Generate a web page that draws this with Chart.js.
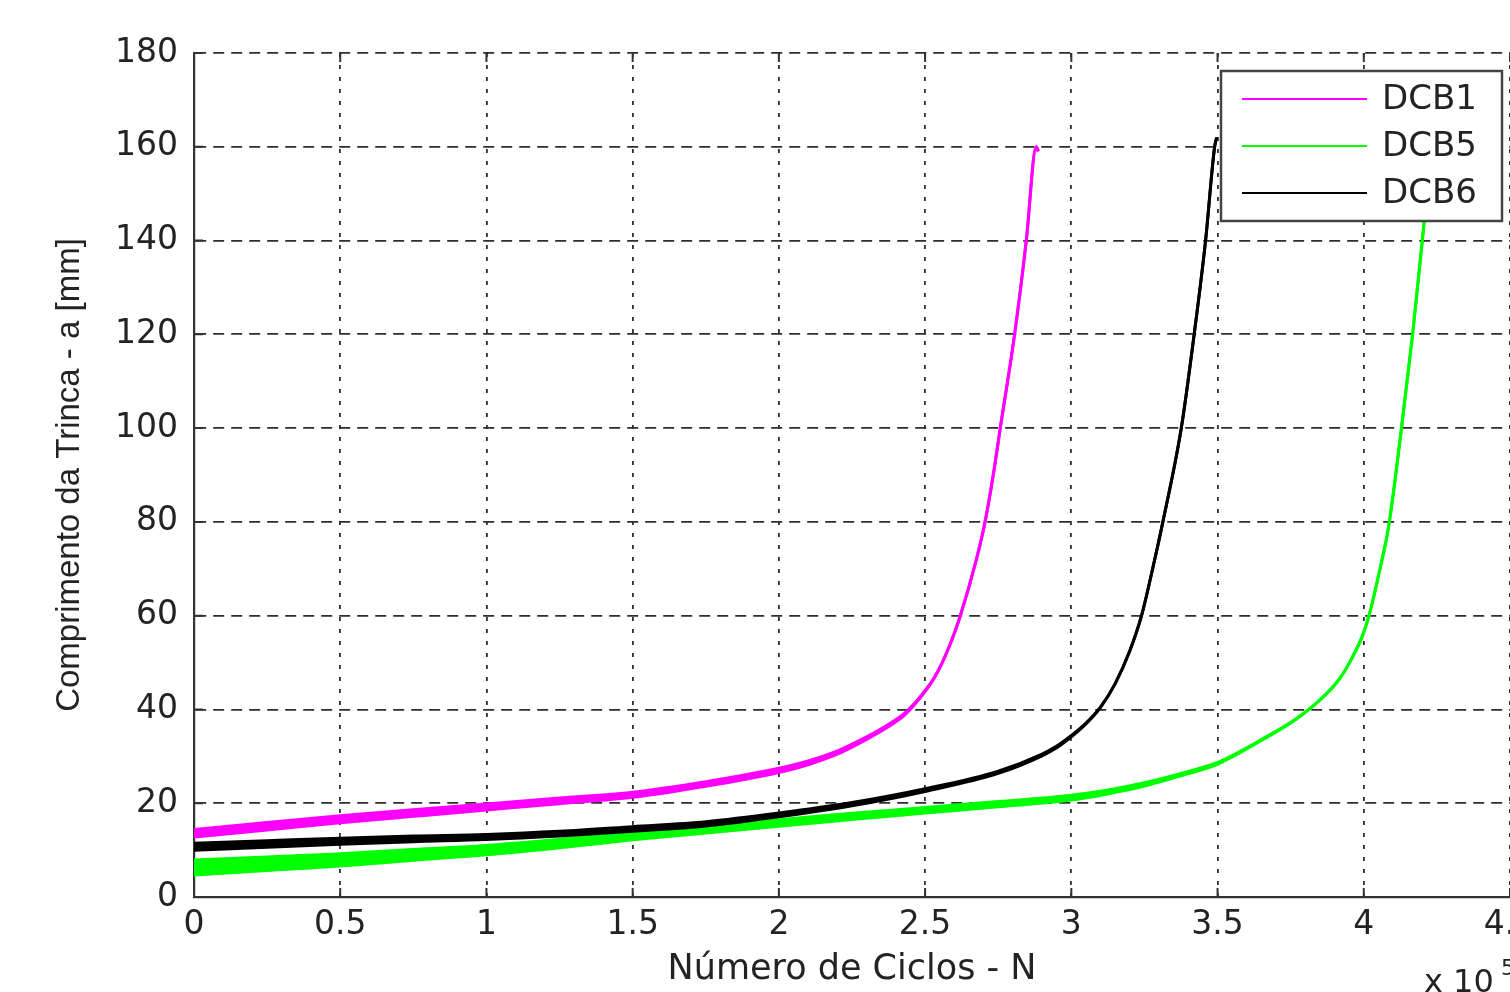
<!DOCTYPE html>
<html>
<head>
<meta charset="utf-8">
<script src="https://cdn.jsdelivr.net/npm/chart.js@4.4.1/dist/chart.umd.min.js"></script>
<style>
html,body{margin:0;padding:0;background:#fff;}
#wrap{width:1510px;height:992px;}
</style>
</head>
<body>
<div id="wrap"><canvas id="c" width="1510" height="992"></canvas></div>
<script>
// eixos
const xTickLabels=["0","0.5","1","1.5","2","2.5","3","3.5","4","4.5"];
const yTickLabels=["0","20","40","60","80","100","120","140","160","180"];
const seriesNames=["DCB1","DCB5","DCB6"];

// DCB1 - N (x 10^5), a [mm], meia largura da faixa de oscilação [mm]
const dcb1N=[0,0.25,0.5,0.75,1.0,1.25,1.5,1.75,2.0,2.1,2.2,2.276,2.37,2.43,2.47,2.508,2.53,2.555,2.59,2.618,2.675,2.705,2.733,2.757,2.806,2.846,2.88,2.887];
const dcb1A=[13.6,15.1,16.6,17.9,19.2,20.5,21.8,24.1,27.0,28.6,30.8,33.1,36.4,39.0,41.6,44.6,46.6,49.5,54.6,59.5,71.9,80,90,100,120,140,160,159];
const dcb1Spread=[0.8,0.8,0.75,0.7,0.65,0.6,0.55,0.5,0.45,0.4,0.35,0.3,0.25,0.2,0.15,0.1,0.07,0.04,0,0,0,0,0,0,0,0,0,0];

// DCB5
const dcb5N=[0,0.25,0.5,0.75,1.0,1.25,1.5,1.75,2.0,2.25,2.5,2.75,3.0,3.125,3.25,3.375,3.5,3.54,3.65,3.77,3.87,3.92,3.96,3.996,4.02,4.052,4.085,4.127,4.167,4.2,4.235];
const dcb5A=[6.3,7.1,7.9,9.0,10.0,11.4,13.0,14.4,15.8,17.2,18.5,19.8,21.2,22.4,24.0,26.1,28.5,29.7,33.5,38.0,43.2,46.8,51.0,55.8,60.5,69,79,99,120,140,162];
const dcb5Spread=[1.6,1.45,1.3,1.15,1.0,0.9,0.8,0.75,0.7,0.65,0.6,0.55,0.5,0.42,0.35,0.25,0.2,0.15,0.1,0.05,0,0,0,0,0,0,0,0,0,0,0];

// DCB6
const dcb6N=[0,0.25,0.5,0.75,1.0,1.25,1.5,1.75,2.0,2.25,2.5,2.75,2.9,2.95,3.0,3.05,3.1,3.15,3.2,3.24,3.278,3.313,3.376,3.42,3.459,3.49,3.497];
const dcb6A=[10.7,11.3,11.9,12.4,12.8,13.5,14.5,15.6,17.5,19.8,22.8,26.6,30.3,32.0,34.3,37.0,40.5,45.5,52.5,60,70,80,100,120,140,160,162];
const dcb6Spread=[0.75,0.7,0.65,0.6,0.55,0.5,0.5,0.45,0.4,0.35,0.3,0.25,0.2,0.18,0.15,0.1,0.05,0,0,0,0,0,0,0,0,0,0];

const COLORS={DCB1:"#ff00ff",DCB5:"#00ff00",DCB6:"#000000"};
const TXT="#232323";

function band(n,a,s,side){
  return n.map((x,i)=>({x,y:a[i]+side*s[i]}));
}

// cada série = borda superior + borda inferior preenchida entre elas
function makeSeries(name,n,a,s,order){
  const color=COLORS[name];
  const base={borderColor:color,backgroundColor:color,borderWidth:3,pointRadius:0,
    cubicInterpolationMode:"monotone",order};
  return [
    {...base,label:name,data:band(n,a,s,1),fill:false},
    {...base,label:name+"_inf",data:band(n,a,s,-1),fill:"-1"}
  ];
}

const datasets=[
  ...makeSeries("DCB1",dcb1N,dcb1A,dcb1Spread,2),
  ...makeSeries("DCB5",dcb5N,dcb5A,dcb5Spread,1),
  ...makeSeries("DCB6",dcb6N,dcb6A,dcb6Spread,0)
];

// ticks internos, legenda estilo matlab e o "x 10^5"
const matlabFrame={
  id:"matlabFrame",
  afterDatasetsDraw(chart){
    const {ctx,chartArea:a,scales:{x,y}}=chart;
    ctx.save();
    ctx.setLineDash([]);
    ctx.strokeStyle="#333";
    ctx.lineWidth=2;
    const tl=9;
    ctx.beginPath();
    x.ticks.forEach(t=>{
      const px=x.getPixelForValue(t.value);
      ctx.moveTo(px,a.bottom); ctx.lineTo(px,a.bottom-tl);
      ctx.moveTo(px,a.top); ctx.lineTo(px,a.top+tl);
    });
    y.ticks.forEach(t=>{
      const py=y.getPixelForValue(t.value);
      ctx.moveTo(a.left,py); ctx.lineTo(a.left+tl,py);
    });
    ctx.stroke();

    // legenda
    const bw=281,bh=150;
    const bx=a.right-8-bw, by=a.top+18;
    ctx.fillStyle="#fff";
    ctx.fillRect(bx,by,bw,bh);
    ctx.strokeStyle="#444";
    ctx.lineWidth=2.5;
    ctx.strokeRect(bx,by,bw,bh);
    ctx.font="34px 'DejaVu Sans'";
    ctx.textBaseline="middle";
    ctx.textAlign="left";
    seriesNames.forEach((name,i)=>{
      const ry=by+28+i*47;
      ctx.strokeStyle=COLORS[name];
      ctx.lineWidth=2;
      ctx.beginPath(); ctx.moveTo(bx+21,ry); ctx.lineTo(bx+146,ry); ctx.stroke();
      ctx.fillStyle=TXT;
      ctx.fillText(name,bx+161,ry+1);
    });

    // multiplicador do eixo x
    ctx.fillStyle=TXT;
    ctx.textBaseline="alphabetic";
    ctx.font="32px 'DejaVu Sans'";
    ctx.fillText("x 10",a.right-86,a.bottom+95);
    ctx.font="22px 'DejaVu Sans'";
    ctx.fillText("5",a.right-9,a.bottom+78);
    ctx.restore();
  }
};

new Chart(document.getElementById("c"),{
  type:"line",
  data:{datasets},
  plugins:[matlabFrame],
  options:{
    responsive:false,
    animation:false,
    layout:{padding:{top:53,right:0,left:0,bottom:0}},
    plugins:{legend:{display:false},tooltip:{enabled:false}},
    scales:{
      x:{
        type:"linear",min:0,max:4.5,
        afterBuildTicks:s=>{s.ticks=xTickLabels.map(t=>({value:parseFloat(t)}));},
        afterFit:s=>{s.height=95;s.paddingLeft=0;s.paddingRight=0;},
        ticks:{callback:(v,i)=>xTickLabels[i],color:TXT,font:{family:"DejaVu Sans",size:33},padding:9,maxRotation:0,autoSkip:false},
        grid:{color:"#2e2e2e",lineWidth:1.8,drawTicks:false},
        border:{display:true,color:"#333",width:2.2,dash:[4,8]},
        title:{display:true,text:"Número de Ciclos - N",color:TXT,font:{family:"DejaVu Sans",size:35},padding:{top:0,bottom:1}}
      },
      y:{
        type:"linear",min:0,max:180,
        afterBuildTicks:s=>{s.ticks=yTickLabels.map(t=>({value:parseFloat(t)}));},
        afterFit:s=>{s.width=194;s.paddingTop=0;s.paddingBottom=0;},
        ticks:{callback:(v,i)=>yTickLabels[i],color:TXT,font:{family:"DejaVu Sans",size:33},padding:16,autoSkip:false},
        grid:{color:"#2e2e2e",lineWidth:1.8,drawTicks:false},
        border:{display:true,color:"#333",width:2.2,dash:[11,7]},
        title:{display:true,text:"Comprimento da Trinca - a [mm]",color:TXT,font:{family:"Liberation Sans",size:33},padding:{top:50,bottom:0}}
      }
    }
  }
});
</script>
</body>
</html>
